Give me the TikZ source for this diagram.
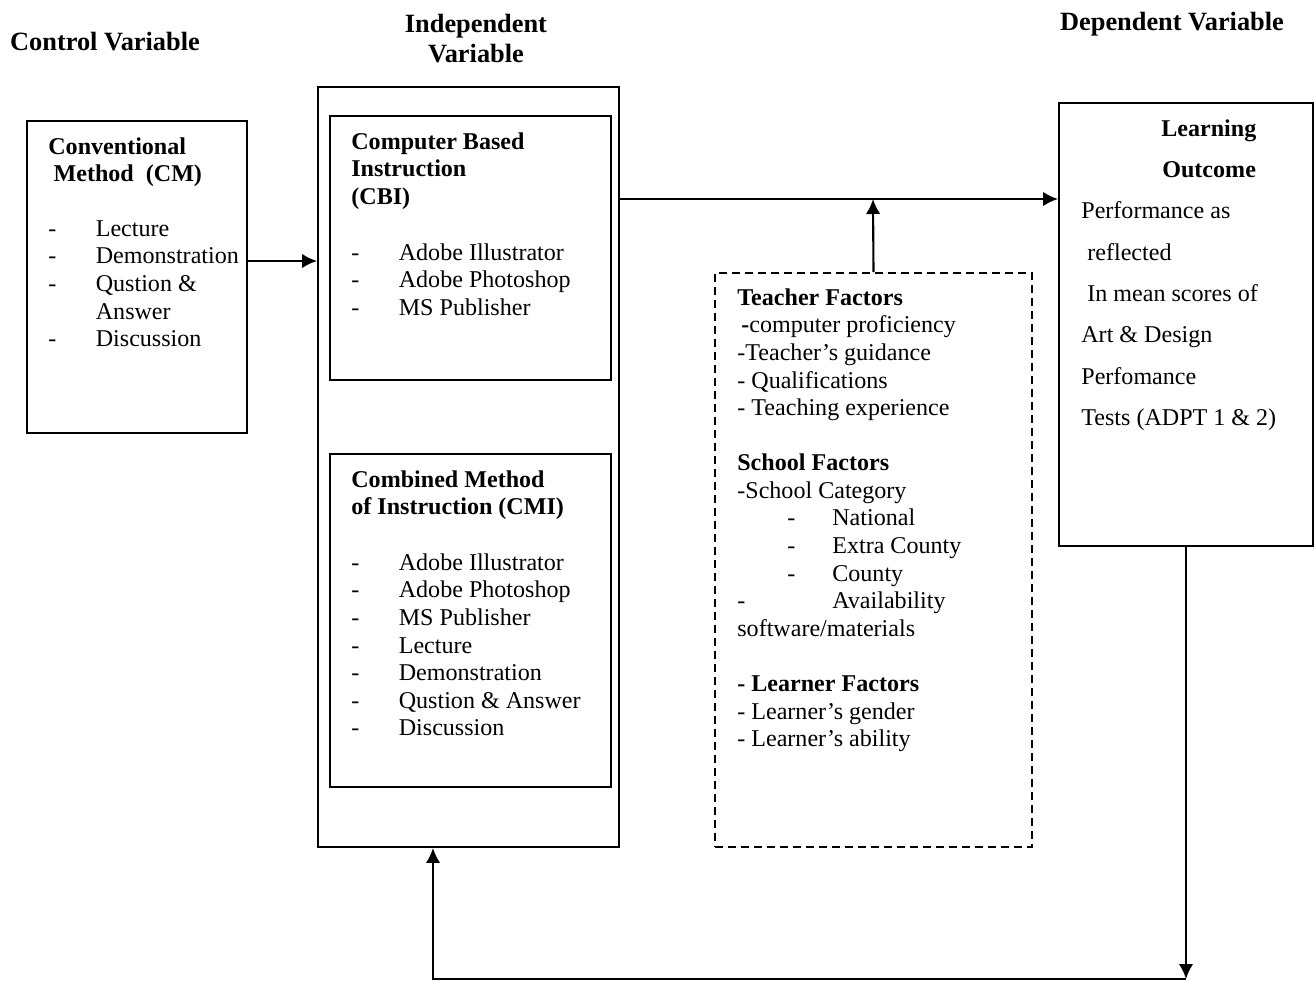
\documentclass[tikz,border=0pt]{standalone}
\usepackage{fontspec}
\setmainfont{Liberation Serif}
\usetikzlibrary{arrows.meta,fit}
\tikzset{> = {Latex[length=3mm,width=2.9mm]}}
\tikzset{box/.style={draw, line width=1.1pt, inner sep=0pt},
  dbox/.style={draw, line width=1pt, dash pattern=on 1.6mm off 1mm, inner sep=0pt},
  txt/.style={anchor=north west, inner sep=0pt, align=left,
    font=\fontsize{13.7}{15.7}\selectfont},
  hd/.style={txt, font=\fontsize{13.7}{15.7}\selectfont\bfseries},
  title/.style={inner sep=0pt, font=\fontsize{15}{16.8}\selectfont\bfseries},
  link/.style={->, line width=1.2pt}}
\newcommand{\itm}[1]{\makebox[0.95cm][l]{-}#1}
\newcommand{\sub}[1]{\hspace*{1cm}\makebox[0.9cm][l]{-}#1}

\begin{document}
\begin{tikzpicture}[x=0.02cm, y=-0.02cm]
	\useasboundingbox (0,0) rectangle (1314,981);
	% titles
	\node[title, anchor=base] (ctl) at (105,50) {Control Variable};
	\node[title, anchor=north, align=center] (ind) at (476,11.7) {\strut Independent\\Variable};
	\node[title, anchor=base] (dep) at (1172,30) {Dependent Variable};
	% boxes
	\node[box, fit={(27,121) (247,433)}] (cm) {};
	\node[box, fit={(318,87) (619,847)}] (iv) {};
	\node[box, fit={(330,116) (611,380)}] (cbi) {};
	\node[box, fit={(330,454) (611,787)}] (cmi) {};
	\node[dbox, fit={(715,273) (1032,847)}] (tf) {};
	\node[box, fit={(1059,103) (1313,546)}] (lo) {};
	% control variable
	\node[hd] (cmh) at (48,134.6) {\strut Conventional\\\hspace*{3pt}Method\ \ (CM)};
	\node[txt] (cml) at (48,216.6) {\strut\itm{Lecture}\\\itm{Demonstration}\\\itm{Qustion \&}\\\hspace*{0.95cm}Answer\\\itm{Discussion}};
	% independent variable
	\node[hd] (cbih) at (351,129.6) {\strut Computer Based\\Instruction\\(CBI)};
	\node[txt] (cbil) at (351,240.6) {\strut\itm{Adobe Illustrator}\\\itm{Adobe Photoshop}\\\itm{MS Publisher}};
	\node[hd] (cmih) at (351,467.6) {\strut Combined Method\\of Instruction (CMI)};
	\node[txt] (cmil) at (351,550.6) {\strut\itm{Adobe Illustrator}\\\itm{Adobe Photoshop}\\\itm{MS Publisher}\\\itm{Lecture}\\\itm{Demonstration}\\\itm{Qustion \& Answer}\\\itm{Discussion}};
	% intervening factors
	\node[txt] (tft) at (737,285.6) {\strut\textbf{Teacher Factors}\\
		\hspace*{2.3pt}\textbf{-}computer proficiency\\
		-Teacher’s guidance\\
		- Qualifications\\
		- Teaching experience\\[15.7pt]
		\textbf{School Factors}\\
		-School Category\\
		\sub{National}\\
		\sub{Extra County}\\
		\sub{County}\\
		\makebox[1.9cm][l]{-}Availability\\
		software/materials\\[15.7pt]
		\textbf{- Learner Factors}\\
		- Learner’s gender\\
		- Learner’s ability};
	% dependent variable
	\node[txt, font=\fontsize{13.7}{23.5}\selectfont] (lot) at (1081,107.1) {\strut\hspace*{1.6cm}\textbf{Learning}\\
		\hspace*{1.62cm}\textbf{Outcome}\\
		Performance as\\
		\hspace*{.25em}reflected\\
		\hspace*{.25em}In mean scores of\\
		Art \& Design\\
		Perfomance\\
		Tests (ADPT 1 \& 2)};
	% connectors
	\path ([yshift=0.32cm]cm.east) coordinate (k);
	\coordinate (j) at (873,199);
	\coordinate (c) at (1186,979);
	\coordinate (d) at (433,979);
	\draw[link] (k) -- (k -| iv.west);
	\draw[link] (iv.east |- j) -- (lo.west |- j);
	\draw[link] (tf.north) -- (j);
	\draw[link] (lo.south) -- (lo.south |- c);
	\draw[link] (lo.south |- c) -- (d) -- (d |- iv.south);
\end{tikzpicture}
\end{document}
